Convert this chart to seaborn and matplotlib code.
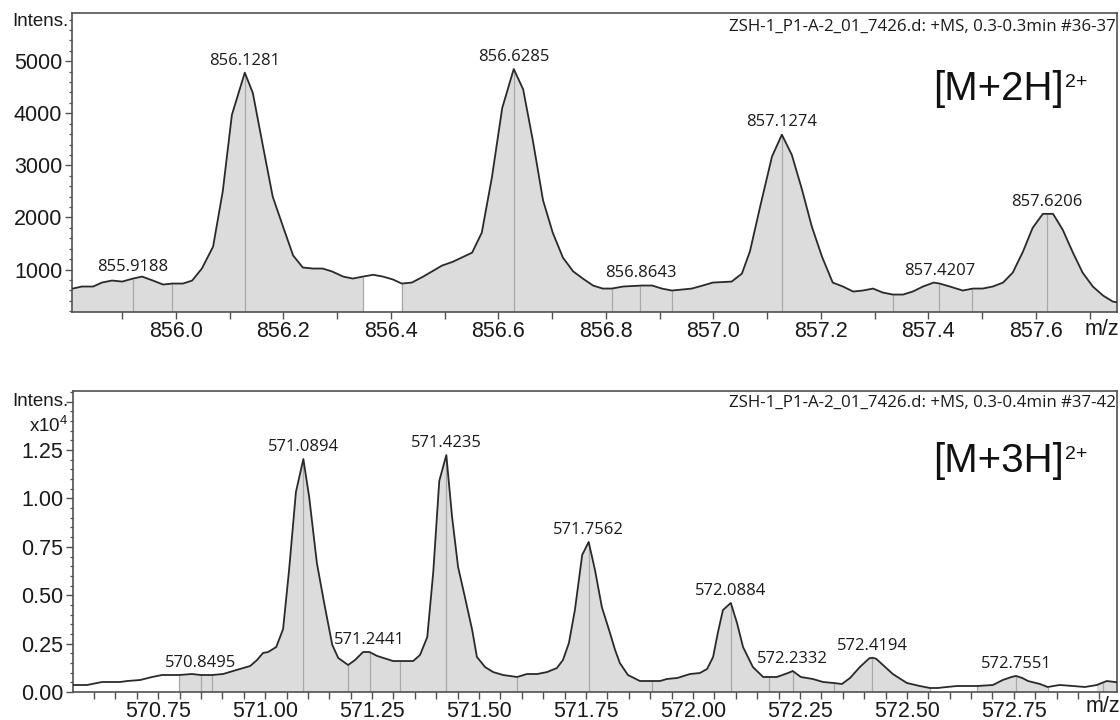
import numpy as np
import pandas as pd
import matplotlib
matplotlib.use("Agg")
import matplotlib.pyplot as plt
import seaborn as sns
from matplotlib.ticker import MultipleLocator, FormatStrFormatter, FixedLocator

# ---------------- data: top spectrum [M+2H]2+ ----------------
top_mz = [855.808, 855.825, 855.846, 855.862, 855.881, 855.900, 855.920, 855.937, 855.957, 855.976,
          855.993, 856.013, 856.030, 856.048, 856.069, 856.087, 856.104, 856.128, 856.143, 856.162,
          856.180, 856.199, 856.218, 856.236, 856.255, 856.273, 856.290, 856.311, 856.329, 856.348,
          856.367, 856.385, 856.404, 856.420, 856.439, 856.460, 856.495, 856.515, 856.551, 856.569,
          856.588, 856.607, 856.6285, 856.646, 856.664, 856.683, 856.701, 856.720, 856.739, 856.757,
          856.776, 856.794, 856.811, 856.832, 856.867, 856.886, 856.904, 856.923, 856.960, 856.980,
          856.999, 857.034, 857.053, 857.068, 857.087, 857.109, 857.1274, 857.146, 857.165, 857.183,
          857.202, 857.222, 857.241, 857.260, 857.278, 857.297, 857.315, 857.334, 857.353, 857.371,
          857.390, 857.410, 857.421, 857.440, 857.464, 857.483, 857.501, 857.520, 857.539, 857.557,
          857.576, 857.594, 857.613, 857.632, 857.650, 857.669, 857.687, 857.706, 857.725, 857.743,
          857.753]
top_int = [636, 675, 675, 751, 790, 770, 828, 866, 790, 713,
           732, 732, 789, 1018, 1440, 2500, 3970, 4780, 4390, 3360,
           2400, 1830, 1270, 1040, 1020, 1020, 966, 866, 828, 866,
           900, 866, 809, 732, 751, 866, 1077, 1150, 1325, 1708,
           2780, 4100, 4850, 4460, 3480, 2330, 1710, 1230, 966, 828,
           694, 636, 636, 675, 694, 694, 636, 598, 636, 694,
           751, 770, 923, 1350, 2210, 3170, 3590, 3200, 2530, 1830,
           1250, 751, 675, 579, 598, 636, 560, 521, 521, 579,
           675, 751, 732, 675, 598, 636, 636, 675, 751, 942,
           1345, 1800, 2070, 2070, 1765, 1325, 942, 675, 502, 387,
           368]
top_fill_ranges = [(855.808, 856.348), (856.420, 857.753)]
top_peak_lines = [855.920, 855.993, 856.1281, 856.348, 856.420, 856.6285, 856.811, 856.8643,
                  856.923, 857.1274, 857.334, 857.4207, 857.481, 857.6206]
top_labels = [855.9188, 856.1281, 856.6285, 856.8643, 857.1274, 857.4207, 857.6206]
top_xticks = [856.0, 856.2, 856.4, 856.6, 856.8, 857.0, 857.2, 857.4, 857.6]
top_yticks = [1000, 2000, 3000, 4000, 5000]
top_header = "ZSH-1_P1-A-2_01_7426.d: +MS, 0.3-0.3min #36-37"
top_ion, top_charge = "[M+2H]", "2+"

# ---------------- data: bottom spectrum [M+3H]2+ ----------------
bot_mz = [570.551, 570.584, 570.619, 570.661, 570.678, 570.708, 570.736, 570.759, 570.778, 570.799,
          570.829, 570.850, 570.876, 570.902, 570.925, 570.949, 570.965, 570.981, 570.995, 571.007,
          571.026, 571.042, 571.056, 571.072, 571.0894, 571.103, 571.121, 571.138, 571.157, 571.171,
          571.194, 571.210, 571.229, 571.2441, 571.262, 571.285, 571.299, 571.315, 571.346, 571.362,
          571.379, 571.393, 571.407, 571.4235, 571.437, 571.451, 571.467, 571.484, 571.495, 571.514,
          571.533, 571.556, 571.589, 571.612, 571.636, 571.659, 571.682, 571.696, 571.710, 571.724,
          571.741, 571.7562, 571.771, 571.787, 571.806, 571.818, 571.829, 571.848, 571.876, 571.904,
          571.923, 571.939, 571.963, 571.993, 572.016, 572.033, 572.047, 572.058, 572.070, 572.0884,
          572.103, 572.117, 572.140, 572.164, 572.196, 572.222, 572.2332, 572.252, 572.280, 572.304,
          572.329, 572.348, 572.367, 572.390, 572.412, 572.4194, 572.428, 572.444, 572.467, 572.500,
          572.530, 572.554, 572.572, 572.593, 572.617, 572.647, 572.664, 572.701, 572.724, 572.745,
          572.7551, 572.770, 572.783, 572.811, 572.829, 572.857, 572.888, 572.916, 572.944, 572.967,
          572.986, 572.998]
bot_int = [362, 362, 517, 517, 568, 620, 775, 878, 878, 878,
           930, 878, 878, 930, 1085, 1240, 1343, 1650, 2015, 2066,
           2324, 3250, 6300, 10330, 12035, 10070, 6660, 4600, 2430, 1756,
           1395, 1650, 2066, 2066, 1860, 1700, 1600, 1600, 1600, 1910,
           2840, 6200, 10900, 12240, 9040, 6460, 4900, 3200, 1810, 1290,
           1030, 878, 775, 930, 930, 1030, 1240, 1650, 2530, 4235,
           7075, 7750, 6300, 4390, 3050, 2170, 1500, 878, 568, 568,
           568, 672, 723, 930, 980, 1190, 1810, 3050, 4235, 4600,
           3560, 2320, 1290, 775, 775, 980, 1085, 775, 672, 517,
           465, 413, 723, 1290, 1740, 1770, 1720, 1395, 930, 465,
           310, 207, 207, 258, 310, 310, 310, 362, 620, 780,
           830, 720, 568, 413, 258, 362, 310, 258, 362, 568,
           517, 465]
bot_fill_ranges = [(570.799, 572.554), (572.664, 572.829), (572.944, 572.998)]
bot_peak_lines = [570.799, 570.850, 570.876, 571.0894, 571.194, 571.2441, 571.315, 571.4235,
                  571.589, 571.7562, 571.904, 572.0884, 572.178, 572.2332, 572.329, 572.4194,
                  572.554, 572.664, 572.7551, 572.829, 572.958]
bot_labels = [570.8495, 571.0894, 571.2441, 571.4235, 571.7562, 572.0884, 572.2332, 572.4194, 572.7551]
bot_xticks = [570.75, 571.00, 571.25, 571.50, 571.75, 572.00, 572.25, 572.50, 572.75]
bot_yticks = [0.00, 0.25, 0.50, 0.75, 1.00, 1.25, 1.50]
bot_header = "ZSH-1_P1-A-2_01_7426.d: +MS, 0.3-0.4min #37-42"
bot_ion, bot_charge = "[M+3H]", "2+"
bot_scale = 1e4

# ---------------- style ----------------
sns.set_style("ticks")
plt.rcParams['font.family'] = ['Liberation Sans', 'DejaVu Sans']
plt.rcParams['mathtext.fontset'] = 'custom'
plt.rcParams['mathtext.rm'] = 'Liberation Sans'
plt.rcParams['mathtext.it'] = 'Liberation Sans:italic'
plt.rcParams['mathtext.bf'] = 'Liberation Sans:bold'

LINE = '#2a2a2a'
FILL = '#dcdcdc'
VLINE = '#a8a8a8'
SPINE = '#505050'
TXT = '#1a1a1a'
W, H = 1120, 720

fig = plt.figure(figsize=(11.2, 7.2), dpi=100)
fig.patch.set_facecolor('white')


def px_rect(l, t, r, b):
    return [l / W, 1 - b / H, (r - l) / W, (b - t) / H]


def draw_panel(ax, mz, inten, fill_ranges, peak_lines, labels, ylim):
    mz = np.asarray(mz)
    inten = np.asarray(inten, dtype=float)
    df = pd.DataFrame({'mz': mz, 'intensity': inten})
    base = ylim[0]
    mask = np.zeros(len(mz), dtype=bool)
    for a, b in fill_ranges:
        mask |= (mz >= a - 1e-9) & (mz <= b + 1e-9)
    ax.fill_between(mz, base, inten, where=mask, color=FILL, linewidth=0, zorder=1)
    tops = np.interp(peak_lines, mz, inten)
    ax.vlines(peak_lines, base, tops, colors=VLINE, linewidth=0.9, zorder=2)
    sns.lineplot(data=df, x='mz', y='intensity', ax=ax, color=LINE, linewidth=1.3,
                 sort=False, zorder=3)
    for lm in labels:
        yv = np.interp(lm, mz, inten)
        ax.annotate(f"{lm:.4f}", xy=(lm, yv), xytext=(0, 3), textcoords='offset points',
                    ha='center', va='bottom', fontsize=12, family='Open Sans', color=TXT)
    ax.set_ylim(*ylim)
    ax.set_xlabel('')
    ax.set_ylabel('')
    for s in ax.spines.values():
        s.set_visible(True)
        s.set_color(SPINE)
        s.set_linewidth(1.2)
    ax.tick_params(axis='both', which='both', direction='out', colors=SPINE,
                   labelcolor=TXT, labelsize=15.5)
    ax.tick_params(axis='x', which='major', length=5, width=1.0, pad=1.5)
    ax.tick_params(axis='x', which='minor', length=5, width=1.0)
    ax.tick_params(axis='y', which='major', length=5, width=1.0, pad=2)
    ax.tick_params(axis='y', which='minor', length=2.5, width=0.9)


# ---- top panel ----
ax1 = fig.add_axes(px_rect(72, 13, 1117, 312))
draw_panel(ax1, top_mz, top_int, top_fill_ranges, top_peak_lines, top_labels, (186, 5925))
ax1.set_xlim(855.8065, 857.751)
ax1.xaxis.set_major_locator(FixedLocator(top_xticks))
ax1.xaxis.set_major_formatter(FormatStrFormatter('%.1f'))
ax1.xaxis.set_minor_locator(MultipleLocator(0.1))
ax1.yaxis.set_major_locator(FixedLocator(top_yticks))
ax1.yaxis.set_major_formatter(FormatStrFormatter('%d'))
ax1.yaxis.set_minor_locator(MultipleLocator(200))

# ---- bottom panel ----
ax2 = fig.add_axes(px_rect(73, 391, 1117, 692))
draw_panel(ax2, bot_mz, np.asarray(bot_int) / bot_scale, bot_fill_ranges, bot_peak_lines,
           [], (0, 1.555))
for lm in bot_labels:
    yv = np.interp(lm, bot_mz, np.asarray(bot_int) / bot_scale)
    ax2.annotate(f"{lm:.4f}", xy=(lm, yv), xytext=(0, 3), textcoords='offset points',
                 ha='center', va='bottom', fontsize=12, family='Open Sans', color=TXT)
ax2.set_xlim(570.551, 572.991)
ax2.xaxis.set_major_locator(FixedLocator(bot_xticks))
ax2.xaxis.set_major_formatter(FormatStrFormatter('%.2f'))
ax2.xaxis.set_minor_locator(MultipleLocator(0.05))
ax2.yaxis.set_major_locator(FixedLocator(bot_yticks))
ax2.yaxis.set_major_formatter(lambda v, p: '' if v > 1.3 else f"{v:.2f}")
ax2.yaxis.set_minor_locator(MultipleLocator(0.05))

# ---- texts ----
def ftext(x, y, s, **kw):
    return fig.text(x / W, 1 - y / H, s, **kw)

ftext(68, 22, "Intens.", ha='right', va='center', fontsize=13.5, color=TXT)
ftext(68, 401, "Intens.", ha='right', va='center', fontsize=13.5, color=TXT)
ftext(68, 426, r"x10$^4$", ha='right', va='center', fontsize=13.5, color=TXT)

ftext(1116, 27, top_header, ha='right', va='center', fontsize=12.2, family='Open Sans', color=TXT)
ftext(1116, 403, bot_header, ha='right', va='center', fontsize=12.2, family='Open Sans', color=TXT)

ftext(1102, 330, "m/z", ha='center', va='center', fontsize=15.5, color=TXT)
ftext(1103, 707, "m/z", ha='center', va='center', fontsize=15.5, color=TXT)

fig.canvas.draw()
renderer = fig.canvas.get_renderer()
for (x0, yb, ion, chg) in [(933, 100, top_ion, top_charge), (933, 472, bot_ion, bot_charge)]:
    t = ftext(x0, yb, ion, ha='left', va='baseline', fontsize=29, color='#111111')
    bb = t.get_window_extent(renderer)
    fig.text((bb.x1 + 1) / W, (bb.y1 - 4) / H, chg, ha='left', va='top',
             fontsize=14, color='#111111')

fig.savefig("out.png", dpi=100, facecolor='white')
